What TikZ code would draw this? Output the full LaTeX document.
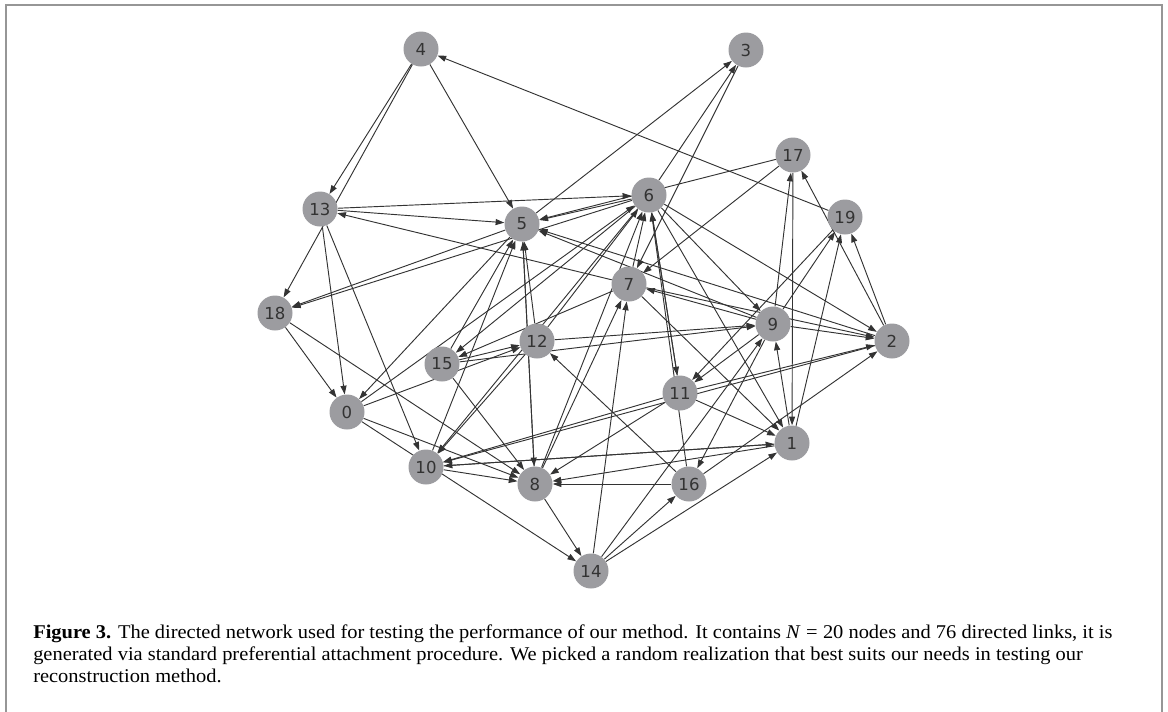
\documentclass[tikz,border=0pt]{standalone}
\usepackage{fontspec}
\setmainfont[FakeStretch=1.05]{Liberation Serif}
\newfontfamily\labelfont{DejaVu Sans}
\usetikzlibrary{arrows.meta,backgrounds}
\definecolor{nodegray}{RGB}{156,156,160}
\definecolor{edgegray}{RGB}{51,51,51}
\definecolor{framegray}{RGB}{150,150,150}
\begin{document}
\begin{tikzpicture}[x=0.75pt,y=-0.75pt,
  vx/.style={circle,fill=nodegray,draw=none,minimum size=26.25pt,inner sep=0pt,
    font=\labelfont\fontsize{12.4}{14}\selectfont,text=edgegray},
  lnk/.style={draw=edgegray,line width=0.7pt,-{Triangle[length=6.5pt,width=4.5pt]}},
  captxt/.style={anchor=base west,inner sep=0pt,font=\fontsize{14.6}{16.5}\selectfont}]
\useasboundingbox (0,0) rectangle (1168,711);
\draw[framegray,line width=1.1pt] (6,5) rectangle (1162,714);
% nodes
\node[vx] (n0)  at (347,412) {0};
\node[vx] (n1)  at (792,443) {1};
\node[vx] (n2)  at (892,341) {2};
\node[vx] (n3)  at (746,50)  {3};
\node[vx] (n4)  at (421,49)  {4};
\node[vx] (n5)  at (522,224) {5};
\node[vx] (n6)  at (649,195) {6};
\node[vx] (n7)  at (629,284) {7};
\node[vx] (n8)  at (535,484) {8};
\node[vx] (n9)  at (773,324) {9};
\node[vx] (n10) at (426,467) {10};
\node[vx] (n11) at (680,393) {11};
\node[vx] (n12) at (537,341) {12};
\node[vx] (n13) at (320,209) {13};
\node[vx] (n14) at (591,571) {14};
\node[vx] (n15) at (442,364) {15};
\node[vx] (n16) at (689,484) {16};
\node[vx] (n17) at (793,155) {17};
\node[vx] (n18) at (275,313) {18};
\node[vx] (n19) at (845,217) {19};
% edges
\begin{scope}[on background layer]
\foreach \a/\b in {4/13,4/18,4/5,19/4,5/3,6/3,3/7,13/5,13/6,7/13,13/0,13/10,
  17/5,17/7,2/17,9/17,17/1,2/19,1/19,9/19,19/11,5/18,6/18,5/0,15/5,10/5,12/5,
  8/5,5/8,6/5,2/5,9/5,6/2,11/2,16/2,9/2,7/2,9/7,6/9,1/9,9/16,14/9,14/16,14/1,
  14/7,8/7,8/6,7/6,16/6,11/6,6/11,12/6,0/6,6/15,7/15,15/12,0/12,15/8,0/8,18/8,
  18/0,10/8,1/10,10/1,1/8,16/8,11/8,12/10,6/10,0/14,8/14,16/12,11/10,2/10,7/1,
  6/1,11/1,12/9,15/9,9/11}
  \draw[lnk] (n\a) -- (n\b);
\end{scope}
% caption
\node[captxt] (c1) at (33,638) {\textbf{Figure 3.} The directed network used for testing the performance of our method. It contains \textit{N}\;=\;20 nodes and 76 directed links, it is};
\node[captxt] (c2) at (33,660) {generated via standard preferential attachment procedure. We picked a random realization that best suits our needs in testing our};
\node[captxt] (c3) at (33,682) {reconstruction method.};
\end{tikzpicture}
\end{document}
